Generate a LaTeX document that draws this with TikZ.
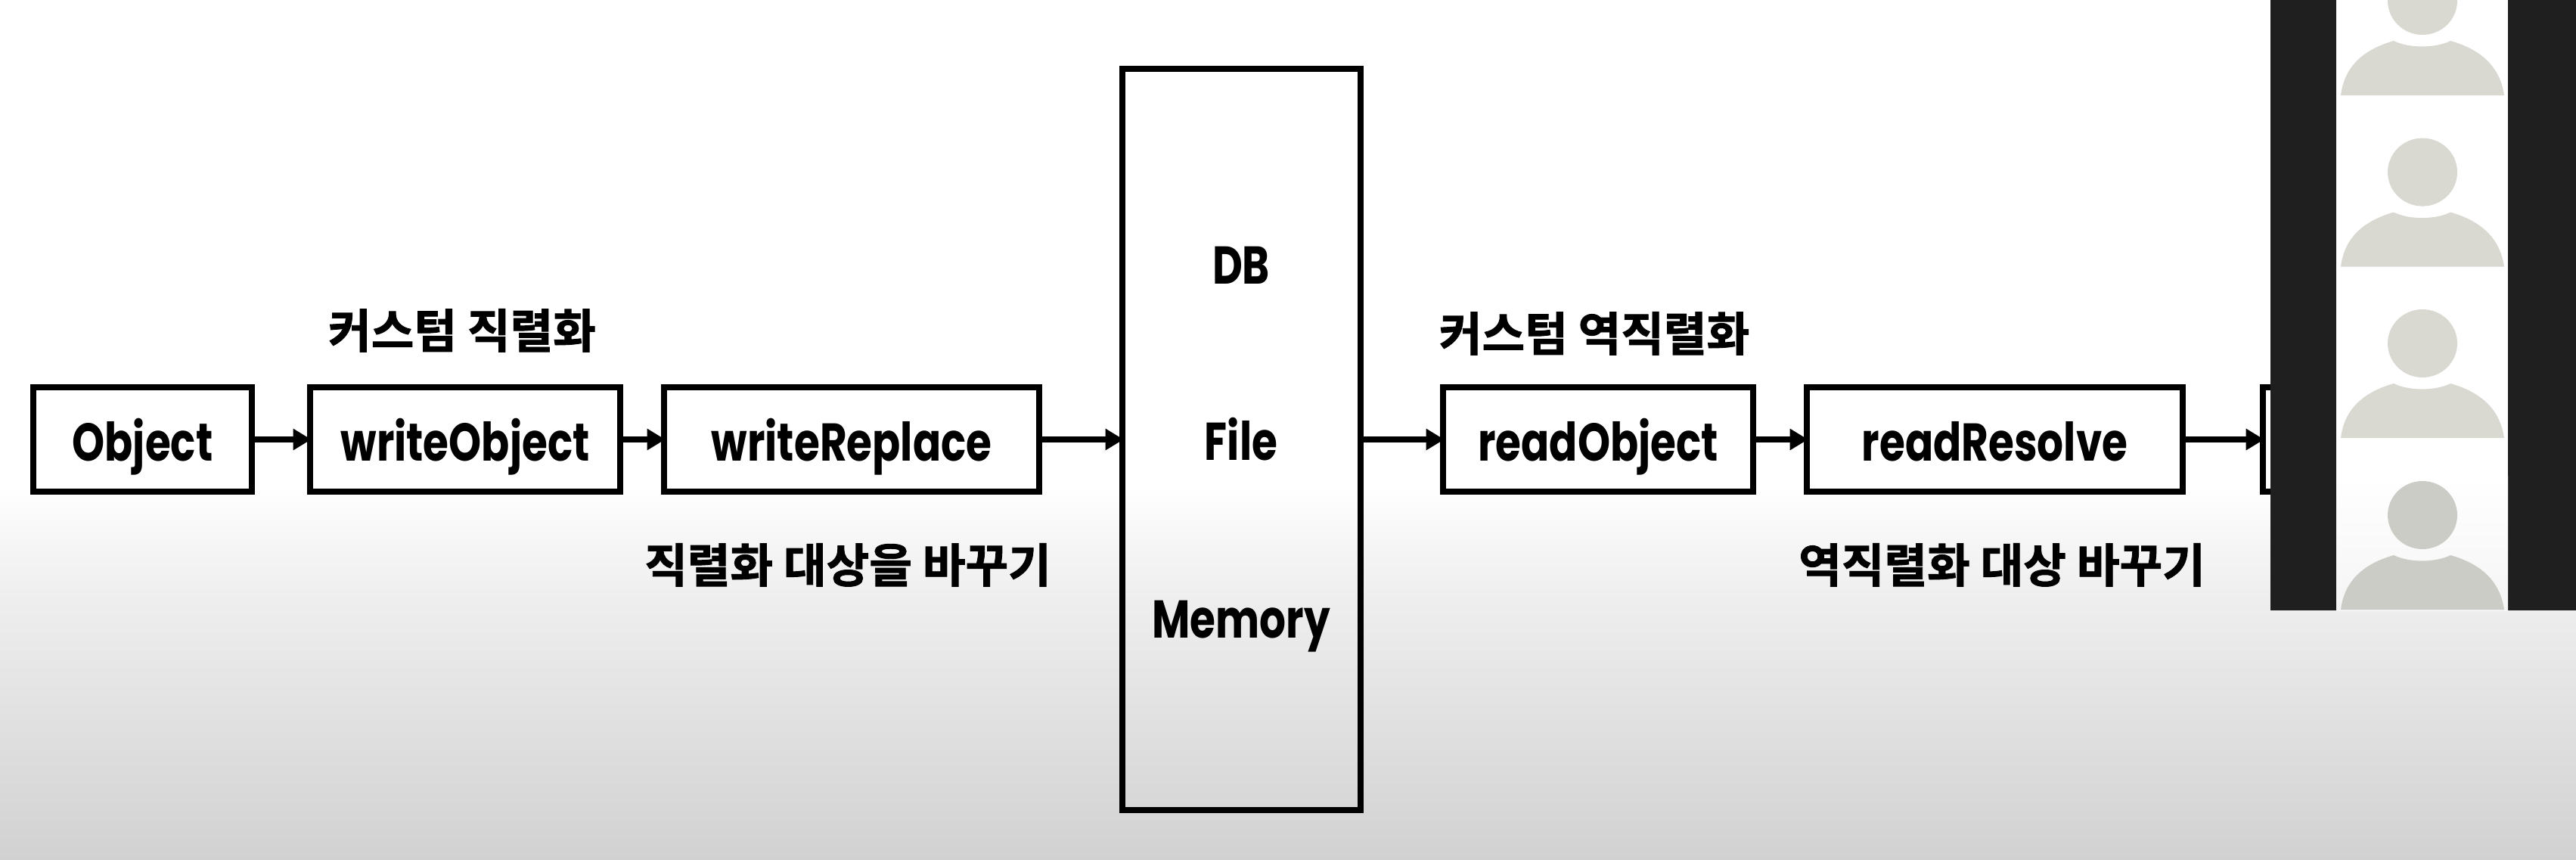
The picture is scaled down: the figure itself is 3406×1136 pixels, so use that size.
\documentclass[tikz,border=0pt]{standalone}
\usepackage{fontspec}
\setmainfont{Noto Sans CJK KR}[BoldFont={Noto Sans CJK KR Bold}]
\newfontfamily\latinfont{Poppins}[BoldFont={Poppins Bold},BoldFeatures={FakeStretch=0.78}]
\newfontfamily\krfont{Noto Sans CJK KR}[BoldFont={Noto Sans CJK KR Bold},BoldFeatures={FakeBold=1.5}]
\usetikzlibrary{arrows.meta}
\definecolor{panel}{HTML}{1F1F1F}
\tikzset{
  boxnode/.style={draw=black,line width=2.28pt,inner sep=0pt,outer sep=0pt,minimum height=1.38cm,
    font=\latinfont\bfseries\fontsize{20}{20}\selectfont,text height=0.56cm,text depth=0pt},
  storebox/.style={draw=black,line width=2.28pt,inner sep=0pt,outer sep=0pt},
  storetext/.style={anchor=base,inner sep=0pt,font=\latinfont\bfseries\fontsize{20}{20}\selectfont},
  krlabel/.style={anchor=base,inner sep=0pt,font=\krfont\bfseries\fontsize{17.5}{17.5}\selectfont},
  flow/.style={line width=2.2pt,-{Triangle[length=0.24cm,width=0.27cm]},shorten >=-0.5pt}
}
\begin{document}
\begin{tikzpicture}[x=0.01cm,y=-0.01cm]
\useasboundingbox (0,0) rectangle (3406,1136);
\clip (0,0) rectangle (3406,1136);
% background
\fill[white] (0,0) rectangle (3406,646);
\shade[top color=white,bottom color=black!4] (0,645) rectangle (3406,725);
\shade[top color=black!4,bottom color=black!6.5] (0,724) rectangle (3406,790);
\shade[top color=black!6.5,bottom color=black!18] (0,789) rectangle (3406,1136);
% boxes
\node[boxnode,minimum width=2.89cm] (obj) at (188.5,581) {Object};
\node[boxnode,minimum width=4.10cm] (wobj) at (615,581) {writeObject};
\node[boxnode,minimum width=4.96cm] (wrep) at (1126,581) {writeReplace};
\node[storebox,minimum width=3.15cm,minimum height=9.80cm] (store) at (1641.5,581) {};
\node[boxnode,minimum width=4.10cm] (robj) at (2113,581) {readObject};
\node[boxnode,minimum width=4.97cm] (rres) at (2637.5,581) {readResolve};
\node[boxnode,minimum width=2.00cm] (last) at (3092,581) {};
% store contents
\node[storetext] (db) at (1641,375) {DB};
\node[storetext] (file) at (1641,608) {File};
\node[storetext] (mem) at (1641,843) {Memory};
% labels
\node[krlabel] (l1) at (611,460) {커스텀 직렬화};
\node[krlabel] (l2) at (1121,770) {직렬화 대상을 바꾸기};
\node[krlabel] (l3) at (2108,464) {커스텀 역직렬화};
\node[krlabel] (l4) at (2647,770) {역직렬화 대상 바꾸기};
% connectors
\draw[flow] (obj.east) -- (wobj.west);
\draw[flow] (wobj.east) -- (wrep.west);
\draw[flow] (wrep.east) -- (store.west);
\draw[flow] (store.east) -- (robj.west);
\draw[flow] (robj.east) -- (rres.west);
\draw[flow] (rres.east) -- (last.west);
% video panel
\fill[panel] (3002,0) rectangle (3406,807);
\fill[white] (3089,0) rectangle (3316,630);
\shade[top color=white,bottom color=black!4] (3089,629) rectangle (3316,807);
\foreach \b/\c in {126/D9D9D2,352.6/D9D9D2,579/D9D9D2,806/CCCCC6}{
  \definecolor{fc}{HTML}{\c}
  \fill[fc] (3203,\b-125) ellipse [x radius=46,y radius=45];
  \fill[fc] (3095,\b) .. controls (3100,\b-42) and (3130,\b-62) .. (3165,\b-72)
     .. controls (3185,\b-62) and (3220,\b-62) .. (3240,\b-72)
     .. controls (3275,\b-62) and (3305,\b-42) .. (3311,\b) -- cycle;
}
\end{tikzpicture}
\end{document}
